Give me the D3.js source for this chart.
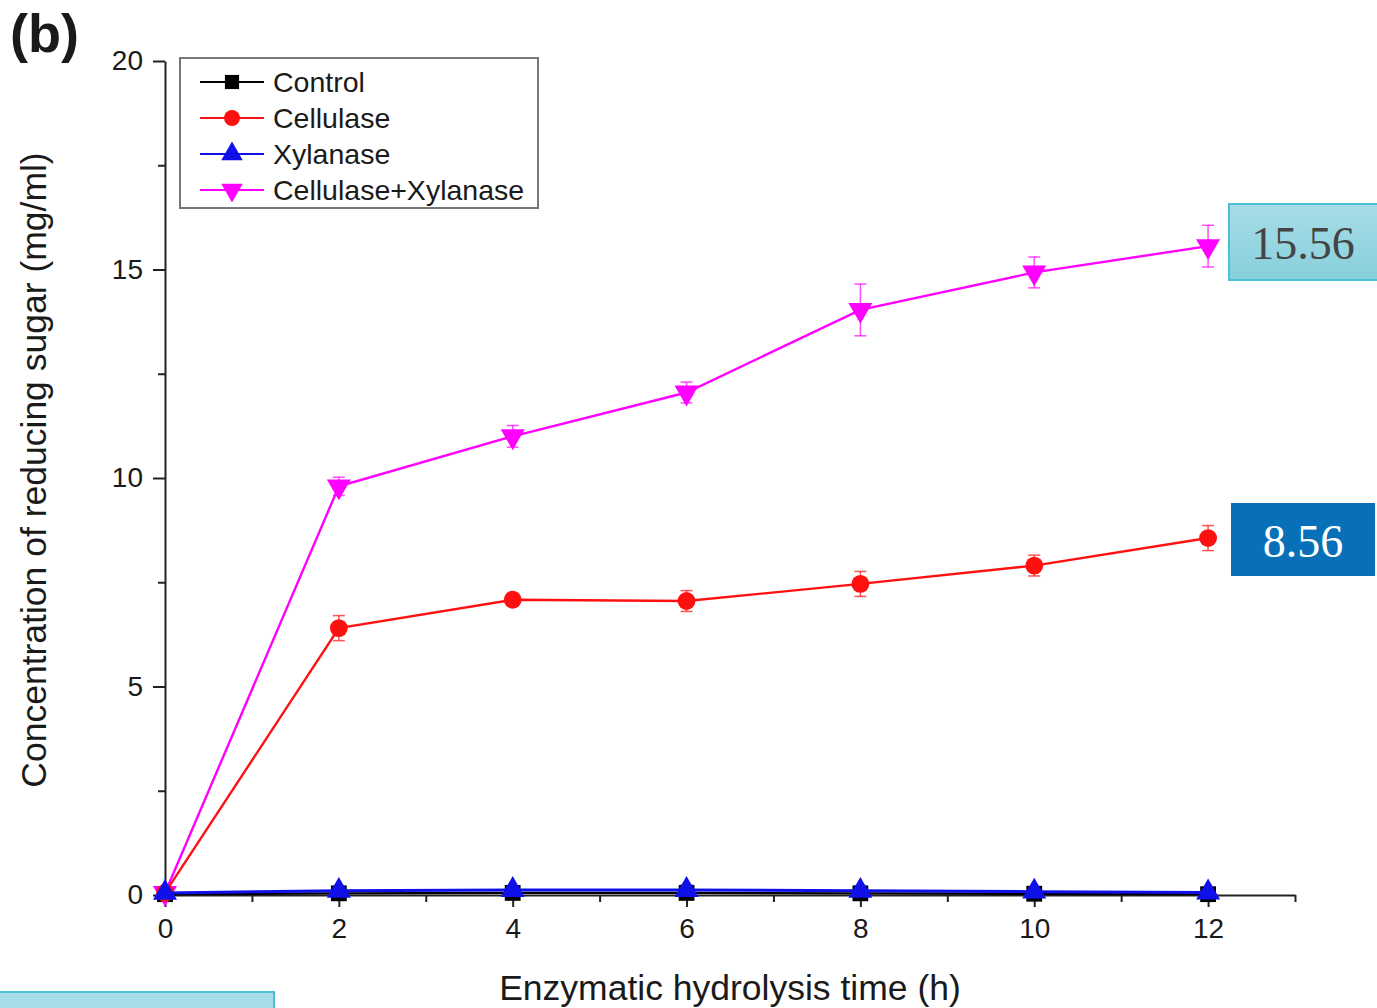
<!DOCTYPE html>
<html lang="en">
<head>
<meta charset="UTF-8">
<title>Reducing sugar vs hydrolysis time</title>
<script src="https://cdnjs.cloudflare.com/ajax/libs/d3/7.8.5/d3.min.js"></script>
<style>
  * { margin: 0; padding: 0; }
  body { background: #fff; width: 1377px; height: 1008px; overflow: hidden; }
  svg { display: block; font-family: "Liberation Sans", Arial, sans-serif; }
</style>
</head>
<body>
<div id="chart"></div>
<script>
// hours of hydrolysis
var hours = [0, 2, 4, 6, 8, 10, 12];

// reducing sugar (mg/ml) per treatment, with error bars
var control = [0.02, 0.04, 0.05, 0.05, 0.04, 0.03, 0.02];
var controlErr = [0.02, 0.03, 0.03, 0.03, 0.03, 0.02, 0.02];
var cellulase = [0.05, 6.4, 7.08, 7.05, 7.46, 7.9, 8.56];
var cellulaseErr = [0.05, 0.3, 0.15, 0.25, 0.3, 0.25, 0.3];
var xylanase = [0.05, 0.1, 0.12, 0.12, 0.1, 0.08, 0.06];
var xylanaseErr = [0.03, 0.1, 0.1, 0.12, 0.12, 0.08, 0.06];
var mixed = [0.05, 9.8, 11.0, 12.05, 14.03, 14.93, 15.56];
var mixedErr = [0.05, 0.22, 0.26, 0.25, 0.62, 0.37, 0.5];

var seriesNames = ['Control', 'Cellulase', 'Xylanase', 'Cellulase+Xylanase'];
var seriesColors = ['#000000', '#ff1010', '#1010e8', '#ff00ff'];
var seriesSymbols = [d3.symbolSquare, d3.symbolCircle, d3.symbolTriangle, d3.symbolTriangle];

var xTicks = [0, 2, 4, 6, 8, 10, 12];
var yTicks = [0, 5, 10, 15, 20];
var callouts = ['15.56', '8.56'];

var width = 1377, height = 1008;
var x0 = 165, x1 = 1295, yTop = 61, yBottom = 895;
var textColor = '#1a1a1a';

var svg = d3.select('#chart').append('svg')
  .attr('width', width)
  .attr('height', height);

var x = d3.scaleLinear().domain([0, 13]).range([x0, x1]);
var y = d3.scaleLinear().domain([0, 20]).range([yBottom, yTop]);

// x axis: major ticks + minor ticks
var xAxis = d3.axisBottom(x).tickValues(xTicks).tickSize(12).tickSizeOuter(0).tickPadding(11);
var xg = svg.append('g').attr('transform', 'translate(0,' + yBottom + ')').call(xAxis);
xg.selectAll('.tick text').attr('font-size', 28).attr('fill', textColor);
xg.select('.domain').attr('stroke', '#222').attr('stroke-width', 2);
xg.selectAll('.tick line').attr('stroke', '#222').attr('stroke-width', 2);
var xMinor = d3.axisBottom(x).tickValues([1, 3, 5, 7, 9, 11, 13]).tickSize(7).tickFormat('');
svg.append('g').attr('transform', 'translate(0,' + yBottom + ')').call(xMinor)
  .call(function(g) {
    g.select('.domain').remove();
    g.selectAll('line').attr('stroke', '#222').attr('stroke-width', 2);
  });

// y axis
var yAxis = d3.axisLeft(y).tickValues(yTicks).tickSize(12).tickSizeOuter(0).tickPadding(10);
var yg = svg.append('g').attr('transform', 'translate(' + x0 + ',0)').call(yAxis);
yg.selectAll('.tick text').attr('font-size', 28).attr('fill', textColor);
yg.select('.domain').attr('stroke', '#222').attr('stroke-width', 2);
yg.selectAll('.tick line').attr('stroke', '#222').attr('stroke-width', 2);
var yMinor = d3.axisLeft(y).tickValues([2.5, 7.5, 12.5, 17.5]).tickSize(7).tickFormat('');
svg.append('g').attr('transform', 'translate(' + x0 + ',0)').call(yMinor)
  .call(function(g) {
    g.select('.domain').remove();
    g.selectAll('line').attr('stroke', '#222').attr('stroke-width', 2);
  });

// axis titles
svg.append('text')
  .attr('x', 730).attr('y', 1000)
  .attr('text-anchor', 'middle')
  .attr('font-size', 35.5)
  .attr('fill', textColor)
  .text('Enzymatic hydrolysis time (h)');

svg.append('text')
  .attr('transform', 'translate(46,470) rotate(-90)')
  .attr('text-anchor', 'middle')
  .attr('font-size', 35.5)
  .attr('fill', textColor)
  .text('Concentration of reducing sugar (mg/ml)');

svg.append('text')
  .attr('x', 10).attr('y', 52)
  .attr('font-size', 54)
  .attr('font-weight', 'bold')
  .attr('fill', textColor)
  .text('(b)');

// series
var allValues = [control, cellulase, xylanase, mixed];
var allErrs = [controlErr, cellulaseErr, xylanaseErr, mixedErr];
var line = d3.line().x(function(d) { return x(d[0]); }).y(function(d) { return y(d[1]); });

function symbolPath(i, size) {
  var s = d3.symbol().type(seriesSymbols[i]).size(size);
  return s();
}

[0, 3, 1, 2].forEach(function(i) {
  var pts = hours.map(function(h, k) { return [h, allValues[i][k], allErrs[i][k]]; });
  var g = svg.append('g');
  g.append('path')
    .datum(pts)
    .attr('d', line)
    .attr('fill', 'none')
    .attr('stroke', seriesColors[i])
    .attr('stroke-width', i === 2 ? 3 : 2.4);

  // error bars
  var eb = g.selectAll('.err').data(pts).enter().append('g');
  eb.append('line')
    .attr('x1', function(d) { return x(d[0]); })
    .attr('x2', function(d) { return x(d[0]); })
    .attr('y1', function(d) { return y(d[1] - d[2]); })
    .attr('y2', function(d) { return y(d[1] + d[2]); })
    .attr('stroke', seriesColors[i]).attr('stroke-width', 1.5).attr('opacity', 0.7);
  [1, -1].forEach(function(sgn) {
    eb.append('line')
      .attr('x1', function(d) { return x(d[0]) - 6; })
      .attr('x2', function(d) { return x(d[0]) + 6; })
      .attr('y1', function(d) { return y(d[1] + sgn * d[2]); })
      .attr('y2', function(d) { return y(d[1] + sgn * d[2]); })
      .attr('stroke', seriesColors[i]).attr('stroke-width', 1.5).attr('opacity', 0.7);
  });

  g.selectAll('.mk').data(pts).enter().append('path')
    .attr('d', symbolPath(i, 250))
    .attr('transform', function(d) {
      return 'translate(' + x(d[0]) + ',' + y(d[1]) + ')' + (i === 3 ? ' rotate(180)' : '');
    })
    .attr('fill', seriesColors[i]);
});

// legend
var lg = svg.append('g').attr('transform', 'translate(180,58)');
lg.append('rect')
  .attr('width', 358).attr('height', 150)
  .attr('fill', '#fff')
  .attr('stroke', '#777').attr('stroke-width', 2);
seriesNames.forEach(function(name, i) {
  var cy = 24 + i * 36;
  lg.append('line')
    .attr('x1', 20).attr('x2', 84).attr('y1', cy).attr('y2', cy)
    .attr('stroke', seriesColors[i]).attr('stroke-width', 2.2);
  lg.append('path')
    .attr('d', symbolPath(i, 200))
    .attr('transform', 'translate(52,' + cy + ')' + (i === 3 ? ' rotate(180)' : ''))
    .attr('fill', seriesColors[i]);
  lg.append('text')
    .attr('x', 93).attr('y', cy + 10)
    .attr('font-size', 28.5)
    .attr('fill', textColor)
    .text(name);
});

// callout boxes
var defs = svg.append('defs');
var grad = defs.append('linearGradient').attr('id', 'cyanGrad')
  .attr('x1', 0).attr('y1', 0).attr('x2', 0).attr('y2', 1);
grad.append('stop').attr('offset', '0%').attr('stop-color', '#a9dde7');
grad.append('stop').attr('offset', '100%').attr('stop-color', '#86cfdc');

svg.append('rect')
  .attr('x', 1229).attr('y', 204).attr('width', 150).attr('height', 76)
  .attr('fill', 'url(#cyanGrad)').attr('stroke', '#4cc0d4').attr('stroke-width', 2);
svg.append('text')
  .attr('x', 1303).attr('y', 259)
  .attr('text-anchor', 'middle')
  .attr('font-family', '"Liberation Serif", "Times New Roman", serif')
  .attr('font-size', 46)
  .attr('fill', '#444')
  .text(callouts[0]);

svg.append('rect')
  .attr('x', 1231).attr('y', 503).attr('width', 144).attr('height', 73)
  .attr('fill', '#0870b8');
svg.append('text')
  .attr('x', 1303).attr('y', 557)
  .attr('text-anchor', 'middle')
  .attr('font-family', '"Liberation Serif", "Times New Roman", serif')
  .attr('font-size', 46)
  .attr('fill', '#fff')
  .text(callouts[1]);

// cropped box at bottom-left
svg.append('rect')
  .attr('x', -2).attr('y', 992).attr('width', 276).attr('height', 30)
  .attr('fill', '#a5dce6').attr('stroke', '#4cc0d4').attr('stroke-width', 2);
</script>
</body>
</html>
